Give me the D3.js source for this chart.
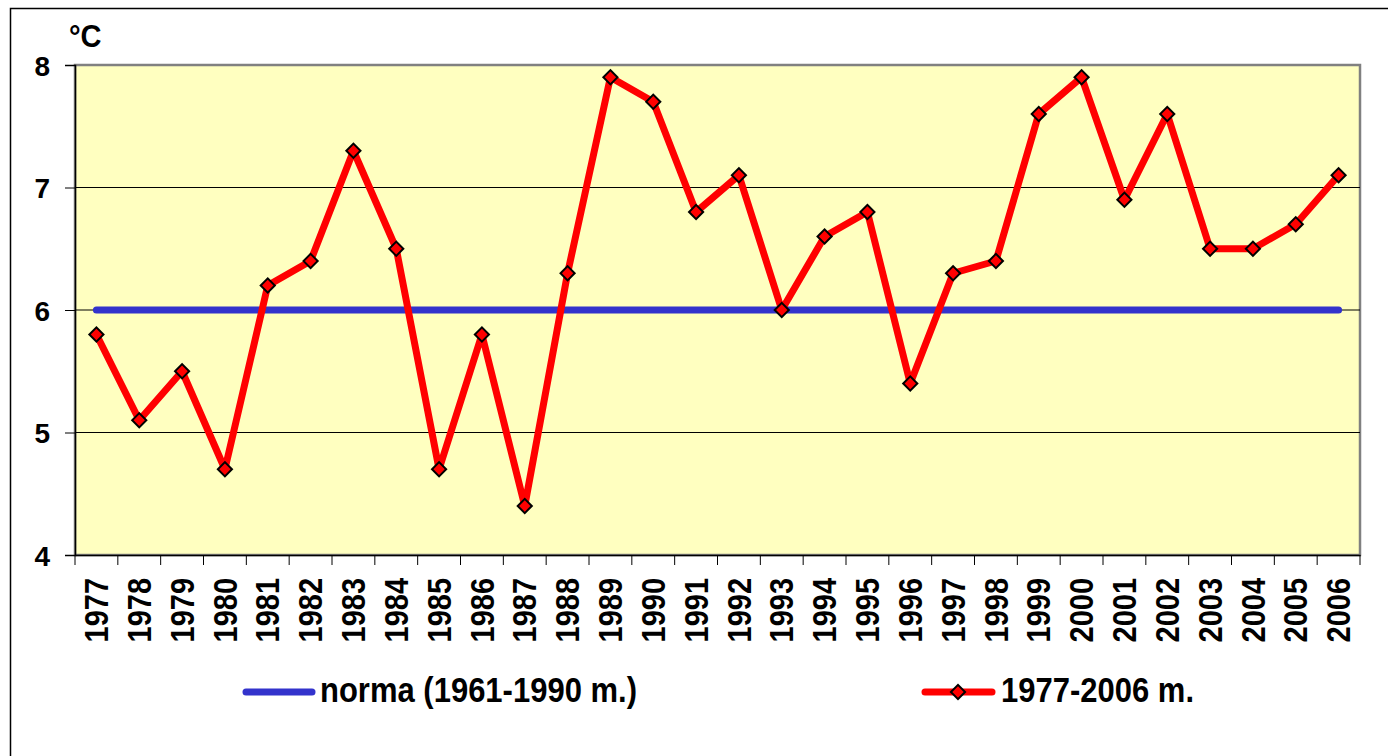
<html>
<head>
  <script src="https://cdn.jsdelivr.net/npm/d3@7"></script>
  <style>
    body { margin: 0; background: #fff; }
    text { font-family: Arial, "Liberation Sans", sans-serif; font-weight: bold; fill: #000; }
  </style>
</head>
<body>
  <script>
    const years = ["1977","1978","1979","1980","1981","1982","1983","1984","1985","1986",
                   "1987","1988","1989","1990","1991","1992","1993","1994","1995","1996",
                   "1997","1998","1999","2000","2001","2002","2003","2004","2005","2006"];
    const temps = [5.8,5.1,5.5,4.7,6.2,6.4,7.3,6.5,4.7,5.8,
                   4.4,6.3,7.9,7.7,6.8,7.1,6.0,6.6,6.8,5.4,
                   6.3,6.4,7.6,7.9,6.9,7.6,6.5,6.5,6.7,7.1];
    const norma = years.map(() => 6);
    const yTicks = [4, 5, 6, 7, 8];
    const seriesNames = ["norma (1961-1990 m.)", "1977-2006 m."];

    var width = 1388, height = 756;
    var plotL = 75, plotR = 1360, plotT = 65, plotB = 555;

    var svg = d3.select('body').append('svg')
      .attr('width', width).attr('height', height);

    // outer chart border
    svg.append('rect')
      .attr('x', 10.5).attr('y', 8.5)
      .attr('width', 1400).attr('height', 800)
      .attr('fill', '#fff').attr('stroke', '#000').attr('stroke-width', 1.5);

    var x = d3.scaleBand().domain(years).range([plotL, plotR]);
    var y = d3.scaleLinear().domain([4, 8]).range([plotB, plotT]);

    // plot area
    svg.append('rect')
      .attr('x', plotL).attr('y', plotT)
      .attr('width', plotR - plotL).attr('height', plotB - plotT)
      .attr('fill', '#FFFFC0').attr('stroke', '#808080').attr('stroke-width', 2.5);

    // gridlines
    svg.append('g')
      .selectAll('line')
      .data(yTicks.slice(1, -1))
      .enter().append('line')
      .attr('x1', plotL).attr('x2', plotR)
      .attr('y1', d => y(d)).attr('y2', d => y(d))
      .attr('stroke', '#000').attr('stroke-width', 1);

    // y axis
    var yAxis = svg.append('g')
      .attr('transform', 'translate(' + plotL + ',0)')
      .call(d3.axisLeft(y).tickValues(yTicks).tickSize(10).tickPadding(0).tickFormat(d3.format('d')));
    yAxis.select('.domain').attr('stroke', '#000').attr('stroke-width', 1.5);
    yAxis.selectAll('.tick line').attr('stroke', '#000');
    yAxis.selectAll('text')
      .attr('font-size', 28).attr('fill', '#000').attr('font-family', null)
      .attr('x', -25).attr('dy', '0.36em');

    // x axis
    var xAxis = svg.append('g')
      .attr('transform', 'translate(0,' + plotB + ')')
      .call(d3.axisBottom(x).tickSize(0).tickPadding(0));
    xAxis.select('.domain').attr('stroke', '#000').attr('stroke-width', 1.5);
    xAxis.selectAll('.tick text')
      .attr('font-size', 29).attr('fill', '#000').attr('font-family', null)
      .attr('transform', 'scale(1.12,1) rotate(-90)')
      .attr('text-anchor', 'end')
      .attr('x', -23).attr('y', 0).attr('dy', '0.36em');
    // ticks at category boundaries
    svg.append('g').selectAll('line')
      .data(years.concat(['end']))
      .enter().append('line')
      .attr('x1', (d, i) => plotL + i * x.step()).attr('x2', (d, i) => plotL + i * x.step())
      .attr('y1', plotB).attr('y2', plotB + 10)
      .attr('stroke', '#000').attr('stroke-width', 1);

    // unit label
    svg.append('g').attr('transform', 'translate(69,47) scale(1,1.08)')
      .append('text').attr('font-size', 29).text('°C');

    var cx = d => x(d) + x.bandwidth() / 2;

    // norma line
    var normaLine = d3.line().x((d, i) => cx(years[i])).y(d => y(d));
    svg.append('path').attr('d', normaLine(norma))
      .attr('fill', 'none').attr('stroke', '#3333CC').attr('stroke-width', 7)
      .attr('stroke-linecap', 'round');

    // temperature line
    var tempLine = d3.line().x((d, i) => cx(years[i])).y(d => y(d));
    svg.append('path').attr('d', tempLine(temps))
      .attr('fill', 'none').attr('stroke', '#FF0000').attr('stroke-width', 7)
      .attr('stroke-linejoin', 'round');

    var marker = d3.symbol().type(d3.symbolSquare).size(100);
    svg.append('g').selectAll('path')
      .data(temps).enter().append('path')
      .attr('transform', (d, i) => 'translate(' + cx(years[i]) + ',' + y(d) + ') rotate(45)')
      .attr('d', marker)
      .attr('fill', '#FF0000').attr('stroke', '#000').attr('stroke-width', 2);

    // legend
    var legend = svg.append('g');
    legend.append('line').attr('x1', 246).attr('x2', 312).attr('y1', 692).attr('y2', 692)
      .attr('stroke', '#3333CC').attr('stroke-width', 7).attr('stroke-linecap', 'round');
    legend.append('g').attr('transform', 'translate(320,702) scale(1,1.12)')
      .append('text').attr('font-size', 31).text(seriesNames[0]);
    legend.append('line').attr('x1', 925).attr('x2', 992).attr('y1', 692).attr('y2', 692)
      .attr('stroke', '#FF0000').attr('stroke-width', 7).attr('stroke-linecap', 'round');
    legend.append('path').attr('transform', 'translate(958,692) rotate(45)')
      .attr('d', marker)
      .attr('fill', '#FF0000').attr('stroke', '#000').attr('stroke-width', 2);
    legend.append('g').attr('transform', 'translate(1001,702) scale(1,1.12)')
      .append('text').attr('font-size', 31).text(seriesNames[1]);
  </script>
</body>
</html>
